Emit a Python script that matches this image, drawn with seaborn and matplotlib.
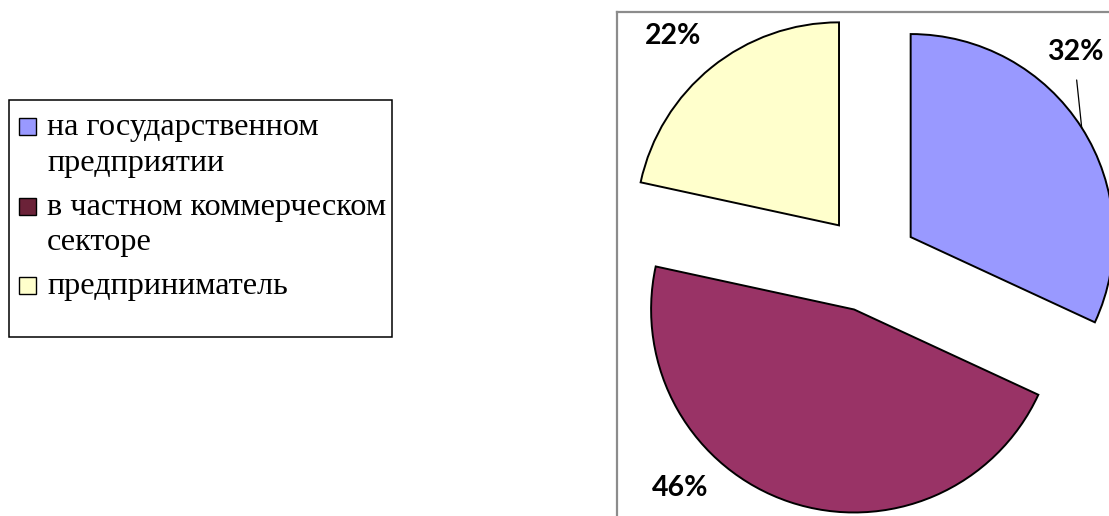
import numpy as np
import matplotlib.pyplot as plt
import seaborn as sns
from matplotlib.patches import Rectangle

# Data (shares; labels as printed on the chart)
categories = ['на государственном\nпредприятии',
              'в частном коммерческом\nсекторе',
              'предприниматель']
shares = [31.9, 46.5, 21.6]
pct_labels = ['32%', '46%', '22%']
colors = ['#9999FF', '#993366', '#FFFFCC']
legend_colors = ['#9999FF', '#6B2238', '#FFFFCC']

sns.set_style('white')
plt.rcParams['font.family'] = ['DejaVu Sans']

W, H = 1109, 516
fig = plt.figure(figsize=(W / 100, H / 100), dpi=100)

# pie axes (in pixels), runs past the right and bottom edges like the original
ax = fig.add_axes([617 / W, (H - 540) / H, 523 / W, 528 / H])
wedges, _ = ax.pie(shares, colors=colors, startangle=90, counterclock=False,
                   explode=[0.24] * len(shares),
                   wedgeprops=dict(edgecolor='black', linewidth=1.4))
ax.set_aspect('auto')
ax.set_xlim(-1.2443, 1.3320)
ax.set_ylim(-1.3631, 1.2379)
ax.set_frame_on(True)
for side, sp in ax.spines.items():
    sp.set_visible(side in ('left', 'top'))
    sp.set_color('#8c8c8c')
    sp.set_linewidth(1.6)

# percentage labels
label_pos = {'32%': (1.0118, 1.0409), '46%': (-0.934, -1.1069), '22%': (-0.9685, 1.1197)}
for lab in pct_labels:
    ax.text(*label_pos[lab], lab, ha='center', va='center', fontsize=20.5,
            fontweight='bold', family='Lato', color='black')

# leader line for 32%
w = wedges[0]
theta = np.deg2rad((w.theta1 + w.theta2) / 2)
arc_pt = (w.center[0] + w.r * np.cos(theta), w.center[1] + w.r * np.sin(theta))
ax.annotate('', xy=arc_pt, xytext=(1.020, 0.903),
            arrowprops=dict(arrowstyle='-', color='black', lw=0.9,
                            shrinkA=0, shrinkB=0))

# legend drawn by hand so the marker sits on the first line of each label
fig.patches.append(Rectangle((9 / W, (H - 337) / H), 383 / W, 237 / H,
                             transform=fig.transFigure, fill=False,
                             edgecolor='black', linewidth=1.1))
baseline = 135
for cat, col in zip(categories, legend_colors):
    lines = cat.split('\n')
    fig.patches.append(Rectangle((19 / W, (H - baseline) / H), 17 / W, 17 / H,
                                 transform=fig.transFigure, facecolor=col,
                                 edgecolor='black', linewidth=1.0))
    for i, line in enumerate(lines):
        fig.text(47 / W, (H - baseline) / H, line, ha='left', va='baseline',
                 fontsize=23.2, family='Liberation Serif', color='black')
        if i < len(lines) - 1:
            baseline += 35.5
    baseline += 44

fig.savefig('out.png', dpi=100)
